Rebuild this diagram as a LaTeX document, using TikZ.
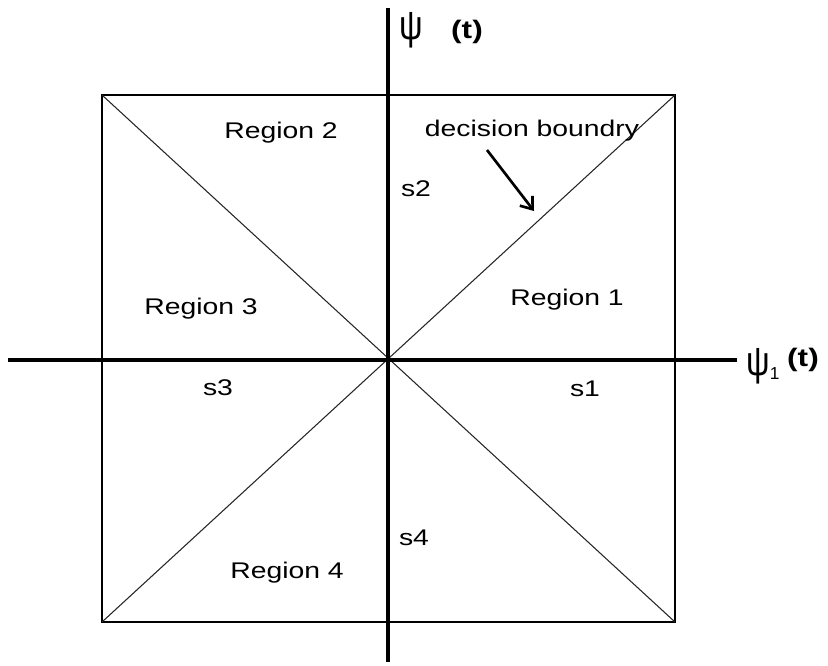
\documentclass[tikz,border=0pt]{standalone}
\usepackage{fontspec}
\usepackage{graphicx}
\setmainfont{Liberation Sans}
\usetikzlibrary{arrows.meta}
\newcommand\widetext[1]{\scalebox{1.25}[1]{#1}}
\begin{document}
\begin{tikzpicture}[x=0.75pt,y=-0.75pt,
  axis/.style={line width=2.6pt},
  box/.style={line width=1.7pt},
  diag/.style={line width=0.8pt, black!85},
  lbl/.style={font=\fontsize{17}{20}\selectfont, inner sep=0pt, anchor=base},
  psilbl/.style={font=\fontsize{31}{32}\selectfont, inner sep=0pt},
  tlbl/.style={font=\fontsize{19}{20}\selectfont\bfseries, inner sep=0pt},
  pointer/.style={line width=2pt, -{Straight Barb[length=8pt,width=12pt,line width=2pt]}}
  ]
\useasboundingbox (0,0) rectangle (828,665);
% box corners
\coordinate (tl) at (102,95);
\coordinate (tr) at (675,95);
\coordinate (br) at (675,622);
\coordinate (bl) at (102,622);
% axis ends
\coordinate (xl) at (8,360);
\coordinate (xr) at (737,360);
\coordinate (yt) at (388,8);
\coordinate (yb) at (388,662);
% box
\draw[box] (tl) -- (tr) -- (br) -- (bl) -- cycle;
% decision boundaries
\draw[diag] (tl) -- (br);
\draw[diag] (tr) -- (bl);
% axes
\draw[axis] (xl) -- (xr);
\draw[axis] (yt) -- (yb);
% axis labels
\node[psilbl] (psi2) at (411,30) {\scalebox{0.8}[1]{ψ}};
\node[tlbl] (t2) at (467,32) {\scalebox{1.25}[1]{(t)}};
\node[psilbl] (psi1) at (763,366) {\scalebox{0.8}[1]{ψ}\raisebox{-3pt}{\fontsize{13}{13}\selectfont 1}};
\node[tlbl] (t1) at (803,360) {\scalebox{1.25}[1]{(t)}};
% region labels
\node[lbl] (r2) at (281,138) {\widetext{Region 2}};
\node[lbl] (r1) at (567,305) {\widetext{Region 1}};
\node[lbl] (r3) at (201,314) {\widetext{Region 3}};
\node[lbl] (r4) at (287,578) {\widetext{Region 4}};
\node[lbl] (dec) at (532,136) {\widetext{decision boundry}};
% symbol labels
\node[lbl] (s2) at (416,196) {\widetext{s2}};
\node[lbl] (s3) at (218,395) {\widetext{s3}};
\node[lbl] (s1) at (585,396) {\widetext{s1}};
\node[lbl] (s4) at (414,545) {\widetext{s4}};
% pointer
\coordinate (ps) at (487,150);
\coordinate (pe) at (534,211);
\draw[pointer] (ps) -- (pe);
\end{tikzpicture}
\end{document}
